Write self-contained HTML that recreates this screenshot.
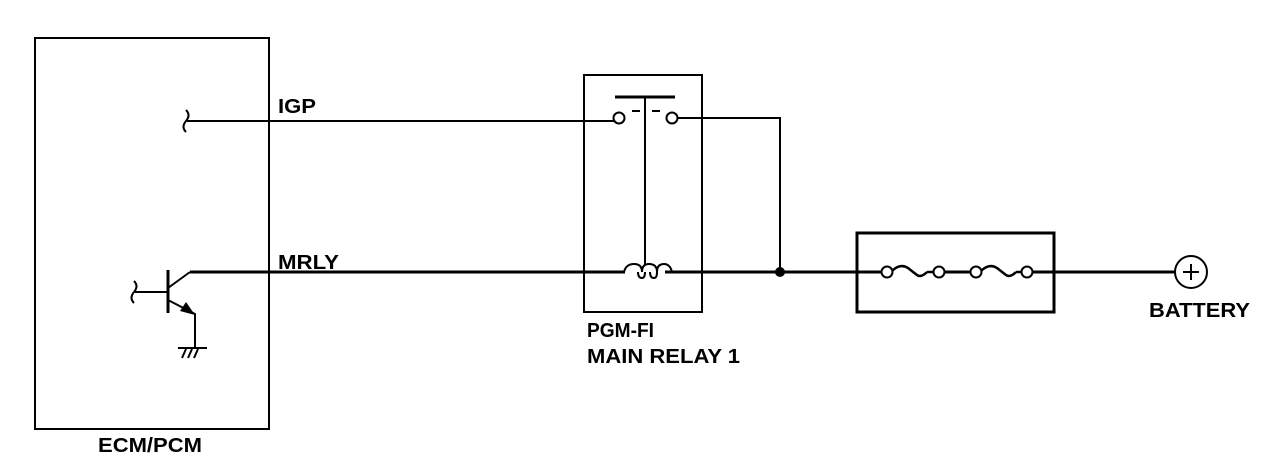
<!DOCTYPE html>
<html><head><meta charset="utf-8"><style>
html,body{margin:0;padding:0;background:#fff;}
svg{display:block}
text{font-family:"Liberation Sans",Arial,sans-serif;font-weight:bold;font-size:20px;fill:#000}
</style></head><body>
<svg width="1280" height="476" viewBox="0 0 1280 476">
<g fill="none" stroke="#000" stroke-width="2">
<rect x="35" y="38" width="234" height="391"/>
<path d="M187 121 H614"/>
<path d="M186 110 q5 5 0 11 q-5 6 0 11" />
<rect x="584" y="75" width="118" height="237"/>
<circle cx="619" cy="118" r="5.5"/>
<circle cx="672" cy="118" r="5.5"/>
<path d="M615 97 H675" stroke-width="3"/>
<path d="M645 97 V265"/>
<path d="M632 111 H640 M652 111 H660"/>
<path d="M678 118 H780 V272"/>
<path d="M190 272 H625 M665 272 H881 M944 272 H970 M1032 272 H1175" stroke-width="3"/>
<path d="M624 272 q2 -8 10 -8 q8 0 8 8 q0 -8 7 -8 q8 0 8 8 q0 -8 7 -8 q6 0 8 8" stroke-width="2"/>
<path d="M638 272 q0 6 4 6 q3 0 3 -6 M650 272 q0 6 4 6 q3 0 3 -6"/>
<rect x="857" y="233" width="197" height="79" stroke-width="3"/>
<circle cx="887" cy="272" r="5.5"/><circle cx="939" cy="272" r="5.5"/>
<circle cx="976" cy="272" r="5.5"/><circle cx="1027" cy="272" r="5.5"/>
<path d="M892 271 q8 -8 16 -3 q5 4 9 7 q4 3 10 -3" stroke-width="2.5"/>
<path d="M927 272 H934" stroke-width="2.5"/>
<path d="M981 271 q8 -8 16 -3 q5 4 9 7 q4 3 10 -3" stroke-width="2.5"/>
<path d="M1016 272 H1022" stroke-width="2.5"/>
<circle cx="1191" cy="272" r="16" fill="#fff"/>
<path d="M1183 272 H1199 M1191 264 V280"/>
<path d="M168 270 V313" stroke-width="3"/>
<path d="M135 292 H168"/>
<path d="M134 281 q5 5 0 11 q-5 6 0 11"/>
<path d="M168 288 L190 272"/>
<path d="M168 300 L195 314 V347"/>
<path d="M178 348 H207"/>
<path d="M182 358 L186 349 M188 358 L192 349 M194 358 L198 349"/>
</g>
<polygon points="195,315 180,311 186,302" fill="#000"/>
<circle cx="780" cy="272" r="5" fill="#000"/>
<text x="278" y="113" textLength="38" lengthAdjust="spacingAndGlyphs">IGP</text>
<text x="278" y="269" textLength="61" lengthAdjust="spacingAndGlyphs">MRLY</text>
<text x="587" y="337" textLength="67" lengthAdjust="spacingAndGlyphs">PGM-FI</text>
<text x="587" y="363" textLength="153" lengthAdjust="spacingAndGlyphs">MAIN RELAY 1</text>
<text x="98" y="452" textLength="104" lengthAdjust="spacingAndGlyphs">ECM/PCM</text>
<text x="1149" y="317" textLength="101" lengthAdjust="spacingAndGlyphs">BATTERY</text>
</svg>
</body></html>
